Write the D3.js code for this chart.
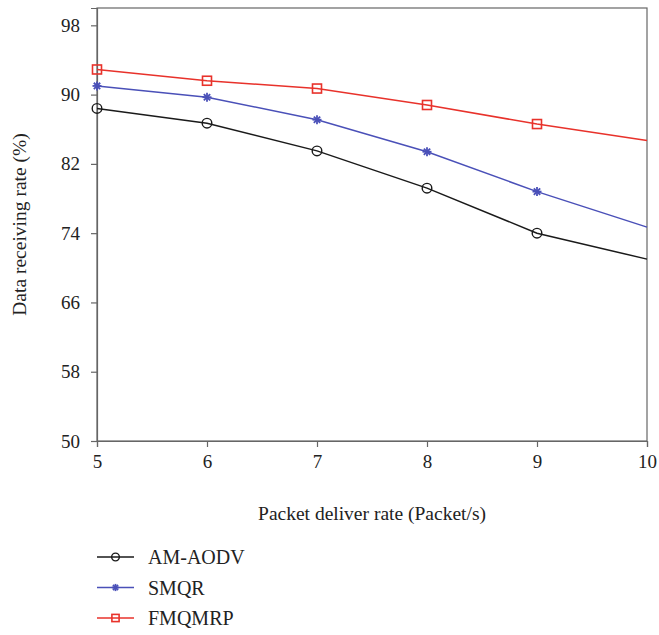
<!DOCTYPE html>
<html>
<head>
<meta charset="utf-8">
<title>Data receiving rate</title>
<style>
  body { margin: 0; background: #fff; }
  text { font-family: "Liberation Serif", "DejaVu Serif", serif; fill: #222; }
</style>
</head>
<body>
<script src="https://d3js.org/d3.v7.min.js"></script>
<script>
var xValues = [5, 6, 7, 8, 9, 10];
var yTicks = [50, 58, 66, 74, 82, 90, 98];
var amAodv = [88.4, 86.7, 83.5, 79.2, 74.0, 71.0];
var smqr = [91.0, 89.7, 87.1, 83.4, 78.8, 74.7];
var fmqmrp = [92.9, 91.6, 90.7, 88.8, 86.6, 84.7];
var seriesNames = ["AM-AODV", "SMQR", "FMQMRP"];

var W = 659, H = 635;
var margin = {top: 8, right: 12, bottom: 194, left: 97};
var width = W - margin.left - margin.right,
    height = H - margin.top - margin.bottom;

var series = [
  {name: seriesNames[0], values: amAodv, color: "#1a1a1a", marker: "circle"},
  {name: seriesNames[1], values: smqr, color: "#4a50b8", marker: "star"},
  {name: seriesNames[2], values: fmqmrp, color: "#e8322b", marker: "square"}
];

var x = d3.scaleLinear().domain([5, 10]).range([0, width]);
var y = d3.scaleLinear().domain([50, 100]).range([height, 0]);

var svg = d3.select("body").append("svg")
    .attr("width", W)
    .attr("height", H);

var chart = svg.append("g")
    .attr("transform", "translate(" + margin.left + "," + margin.top + ")");

// frame
chart.append("rect")
    .attr("width", width).attr("height", height)
    .attr("fill", "none").attr("stroke", "#666").attr("stroke-width", 1.2);

var xAxis = chart.append("g")
    .attr("transform", "translate(0," + height + ")")
    .call(d3.axisBottom(x).tickValues(xValues).tickSize(6).tickPadding(8).tickFormat(d3.format("d")));
var yAxis = chart.append("g")
    .call(d3.axisLeft(y).tickValues(yTicks).tickSize(6).tickPadding(11));

[xAxis, yAxis].forEach(function(a) {
  a.select(".domain").attr("stroke", "#666").attr("stroke-width", 1.2);
  a.selectAll(".tick line").attr("stroke", "#666").attr("stroke-width", 1.2);
  a.selectAll(".tick text")
      .attr("font-family", "Liberation Serif, serif")
      .attr("font-size", "19px")
      .attr("fill", "#222");
});

var line = d3.line()
    .x(function(d, i) { return x(xValues[i]); })
    .y(function(d) { return y(d); });

function drawMarker(g, type, color, cx, cy, sz) {
  if (type === "circle") {
    g.append("circle").attr("cx", cx).attr("cy", cy).attr("r", 4.8 * sz)
        .attr("fill", "none").attr("stroke", color).attr("stroke-width", 1.4);
  } else if (type === "square") {
    g.append("rect").attr("x", cx - 4.5 * sz).attr("y", cy - 4.5 * sz)
        .attr("width", 9 * sz).attr("height", 9 * sz)
        .attr("fill", "none").attr("stroke", color).attr("stroke-width", 1.6);
  } else {
    for (var k = 0; k < 4; k++) {
      var a = k * Math.PI / 4, r = 4.5 * sz;
      g.append("line")
          .attr("x1", cx - r * Math.cos(a)).attr("y1", cy - r * Math.sin(a))
          .attr("x2", cx + r * Math.cos(a)).attr("y2", cy + r * Math.sin(a))
          .attr("stroke", color).attr("stroke-width", 1.8);
    }
  }
}

series.forEach(function(s) {
  chart.append("path")
      .datum(s.values)
      .attr("d", line)
      .attr("fill", "none")
      .attr("stroke", s.color)
      .attr("stroke-width", 1.5);
  var mg = chart.append("g");
  s.values.forEach(function(v, i) {
    if (i < xValues.length - 1) drawMarker(mg, s.marker, s.color, x(xValues[i]), y(v), 1);
  });
});

// axis titles
svg.append("text")
    .attr("x", margin.left + width / 2)
    .attr("y", 520)
    .attr("text-anchor", "middle")
    .attr("font-size", "19.5px")
    .text("Packet deliver rate (Packet/s)");

svg.append("text")
    .attr("transform", "translate(26," + (margin.top + height / 2) + ") rotate(-90)")
    .attr("text-anchor", "middle")
    .attr("font-size", "19.5px")
    .text("Data receiving rate (%)");

// legend
var legend = svg.append("g");
series.forEach(function(s, i) {
  var ly = 557 + i * 30.5;
  legend.append("line")
      .attr("x1", 97).attr("x2", 134).attr("y1", ly).attr("y2", ly)
      .attr("stroke", s.color).attr("stroke-width", 1.5);
  drawMarker(legend, s.marker, s.color, 115.5, ly, 0.8);
  legend.append("text")
      .attr("x", 148).attr("y", ly + 7)
      .attr("font-size", "20px")
      .text(s.name);
});
</script>
</body>
</html>
